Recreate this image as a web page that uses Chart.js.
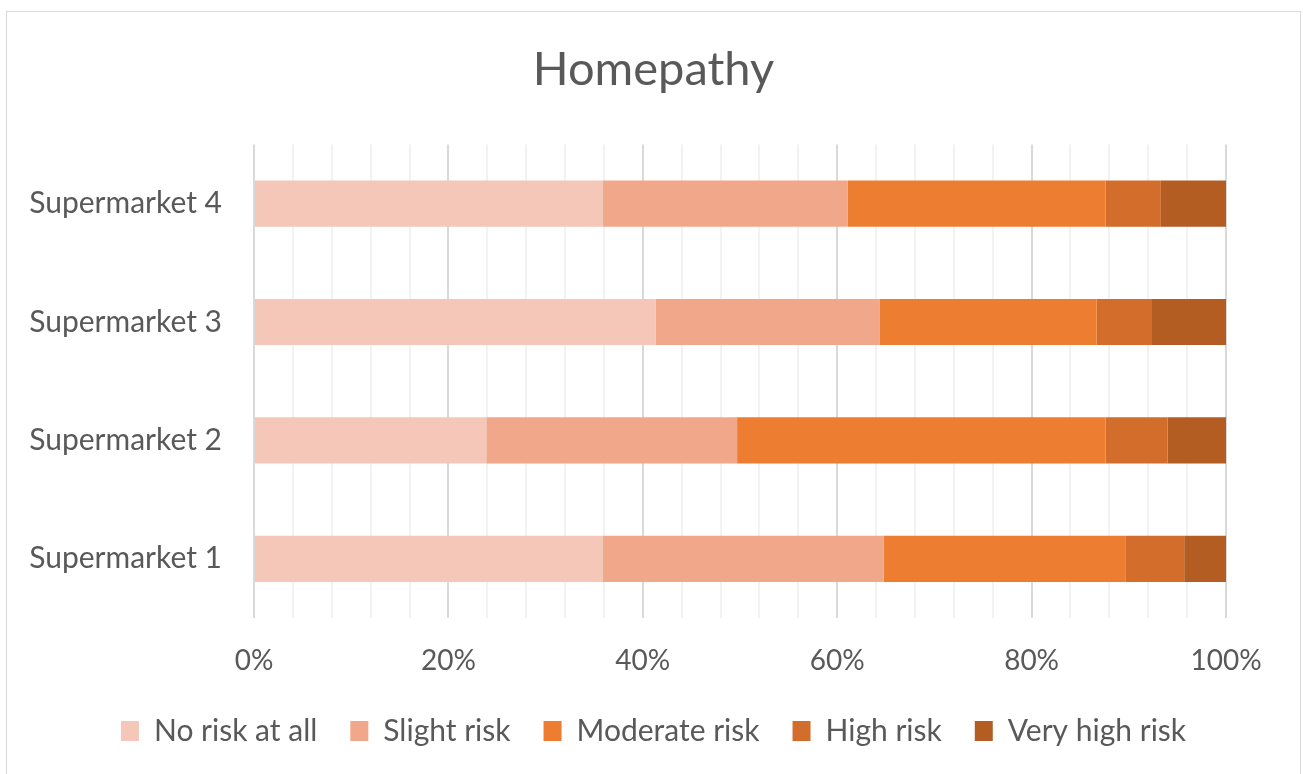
<!DOCTYPE html>
<html>
<head>
<meta charset="utf-8">
<script src="https://cdn.jsdelivr.net/npm/chart.js@4.4.1/dist/chart.umd.min.js"></script>
<style>
    html, body { margin: 0; padding: 0; background: #fff; overflow: hidden; }
    #frame {
        position: absolute; left: 6px; top: 11px;
        width: 1295px; height: 780px;
        border: 1px solid #d9d9d9; box-sizing: border-box;
    }
    #chart { position: absolute; left: 0; top: 0; }
</style>
</head>
<body>
<div id="frame"><canvas id="chart" width="1293" height="757"></canvas></div>
<script>
    const categories = ["Supermarket 4", "Supermarket 3", "Supermarket 2", "Supermarket 1"];
    const seriesNames = ["No risk at all", "Slight risk", "Moderate risk", "High risk", "Very high risk"];
    const seriesColors = ["#f4c7b9", "#f1a88a", "#ed7d31", "#d36d2b", "#b35d22"];

    // percent shares per category, order: S4, S3, S2, S1
    const noRisk = [35.9, 41.3, 23.9, 35.9];
    const slightRisk = [25.2, 23.1, 25.8, 28.9];
    const moderateRisk = [26.5, 22.3, 37.9, 24.9];
    const highRisk = [5.7, 5.6, 6.4, 6.0];
    const veryHighRisk = [6.7, 7.7, 6.0, 4.3];

    const xTicks = [0, 20, 40, 60, 80, 100];

    const seriesValues = [noRisk, slightRisk, moderateRisk, highRisk, veryHighRisk];
    const fontFamily = "Lato, 'Open Sans', sans-serif";
    const textColor = "#595959";

    new Chart(document.getElementById("chart"), {
        type: "bar",
        data: {
            labels: categories,
            datasets: seriesNames.map((name, i) => ({
                label: name,
                data: seriesValues[i],
                backgroundColor: seriesColors[i],
                borderWidth: 0,
                barPercentage: 1,
                categoryPercentage: 0.39
            }))
        },
        options: {
            indexAxis: "y",
            responsive: false,
            animation: false,
            layout: { padding: { top: 12, left: 20, right: 20, bottom: 13 } },
            scales: {
                x: {
                    stacked: true,
                    min: 0,
                    max: 100,
                    border: { display: false },
                    afterFit: axis => { axis.height = 65; },
                    grid: {
                        drawTicks: false,
                        lineWidth: 2,
                        color: ctx => ctx.tick && xTicks.includes(ctx.tick.value) ? "#d9d9d9" : "#f2f2f2"
                    },
                    ticks: {
                        stepSize: 4,
                        autoSkip: false,
                        maxRotation: 0,
                        padding: 26,
                        color: textColor,
                        font: { family: fontFamily, size: 28 },
                        callback: v => xTicks.includes(v) ? v + "%" : ""
                    }
                },
                y: {
                    stacked: true,
                    border: { display: false },
                    grid: { display: false, drawTicks: false },
                    afterFit: axis => { axis.width = 227; },
                    ticks: {
                        padding: 32,
                        color: textColor,
                        font: { family: fontFamily, size: 30 }
                    }
                },
                // empty spacer on the right so the plot ends where the original does
                spacer: {
                    type: "linear",
                    position: "right",
                    border: { display: false },
                    grid: { display: false, drawTicks: false },
                    ticks: { display: false },
                    afterFit: axis => { axis.width = 54; }
                }
            },
            plugins: {
                title: {
                    display: true,
                    text: "Homepathy",
                    color: textColor,
                    font: { family: fontFamily, size: 47, weight: "normal" },
                    padding: { top: 18, bottom: 46 }
                },
                legend: {
                    position: "bottom",
                    labels: {
                        boxWidth: 18,
                        boxHeight: 20,
                        padding: 33,
                        color: textColor,
                        font: { family: fontFamily, size: 30 }
                    }
                },
                tooltip: { enabled: false }
            }
        }
    });
</script>
</body>
</html>
